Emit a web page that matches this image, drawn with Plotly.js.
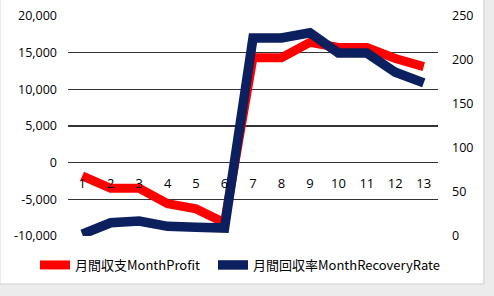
<!DOCTYPE html>
<html>
<head>
<meta charset="utf-8">
<script src="https://cdn.plot.ly/plotly-3.0.1.min.js"></script>
<style>
html,body{margin:0;padding:0;background:#fff;}
#chart{width:494px;height:296px;}
</style>
</head>
<body>
<div id="chart"></div>
<script>
const months = [1,2,3,4,5,6,7,8,9,10,11,12,13];
const monthProfit = [-1800,-3500,-3500,-5600,-6300,-8200,14300,14300,16400,15700,15700,14200,13100];
const recoveryRate = [2,15,17,11,10,9,225,225,231,208,208,186,174];
const profitTicks = [-10000,-5000,0,5000,10000,15000,20000];
const profitTickText = ['-10,000','-5,000','0','5,000','10,000','15,000','20,000'];
const rateTicks = [0,50,100,150,200,250];
const seriesNames = ['月間収支MonthProfit','月間回収率MonthRecoveryRate'];

const font = {family:'"Open Sans","Noto Sans CJK JP",sans-serif', size:12.5, color:'#000'};
const xFont = {family:'"Open Sans","Noto Sans CJK JP",sans-serif', size:13, color:'#000'};
const legFont = {family:'"Noto Sans CJK JP","Open Sans",sans-serif', size:13, color:'#000'};

const traces = [
  {x:months, y:monthProfit, type:'scatter', mode:'lines', name:seriesNames[0],
   line:{color:'#ff0000', width:9}, yaxis:'y', xaxis:'x', legend:'legend'},
  {x:months, y:recoveryRate, type:'scatter', mode:'lines', name:seriesNames[1],
   line:{color:'#0c1f5e', width:9.5}, yaxis:'y2', xaxis:'x', legend:'legend2'}
];

const legBase = {orientation:'h', xref:'container', yref:'container', xanchor:'left',
  y:1-265/296, yanchor:'middle', font:legFont, itemwidth:30, bgcolor:'rgba(0,0,0,0)'};

const layout = {
  width:494, height:296,
  margin:{l:68, r:56, t:16, b:60},
  paper_bgcolor:'#ececec',
  plot_bgcolor:'rgba(0,0,0,0)',
  font:font,
  showlegend:true,
  legend:Object.assign({}, legBase, {x:35/494}),
  legend2:Object.assign({}, legBase, {x:213/494}),
  xaxis:{type:'linear', range:[0.5,13.5], tickvals:months, ticktext:months.map(String),
         showgrid:false, zeroline:false, showline:false, ticks:'',
         anchor:'free', position:1/3, ticklabelstandoff:11, tickfont:xFont},
  yaxis:{range:[-10000,20000], tickvals:profitTicks, ticktext:profitTickText,
         showgrid:true, gridcolor:'#333', gridwidth:1.4, zeroline:false, showline:false,
         ticks:'', ticklabelstandoff:10, tickfont:font},
  yaxis2:{range:[0,250], tickvals:rateTicks, overlaying:'y', side:'right',
          showgrid:false, zeroline:false, showline:false, ticks:'',
          ticklabelstandoff:13, tickfont:font},
  shapes:[
    {type:'rect', xref:'paper', yref:'paper', x0:-0.184, x1:1.124, y0:-0.218, y1:1.08,
     fillcolor:'#ffffff', line:{color:'#cfcfcf', width:1}, layer:'below'}
  ]
};

Plotly.newPlot('chart', traces, layout, {displayModeBar:false, staticPlot:true});
</script>
</body>
</html>
